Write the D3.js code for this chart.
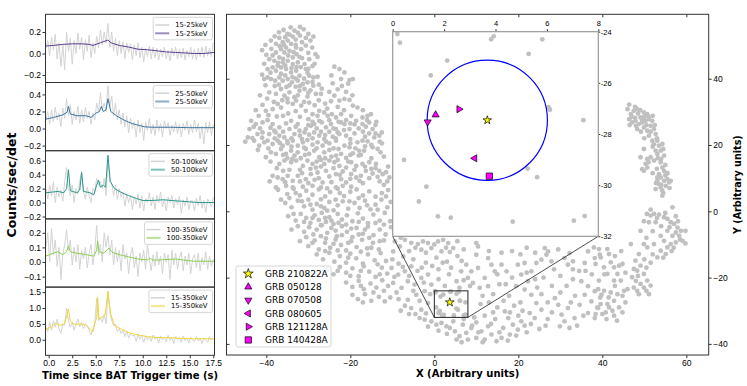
<!DOCTYPE html>
<html lang="en">
<head>
<meta charset="UTF-8" />
<title>GRB 210822A</title>
<style>
  body { margin: 0; background: #fff; }
  svg { font-family: "DejaVu Sans", sans-serif; }
</style>
</head>
<body>
<svg id="chart" width="747" height="386"></svg>
<script src="https://cdn.jsdelivr.net/npm/d3@7"></script>
<script>
// ---- light curves ----
const bands = ["15-25keV", "25-50keV", "50-100keV", "100-350keV", "15-350keV"];
const binStart = -0.3, binWidth = 0.2;
const rate15_25 = [0.05,0.12,-0.02,0.15,0.03,0.18,-0.05,0.1,-0.12,0.08,-0.15,0.2,0.02,0.14,-0.1,0.12,0.0,0.19,0.04,0.15,-0.06,0.13,0.02,0.17,-0.04,0.1,0.0,0.16,0.05,0.22,0.08,0.2,0.1,0.28,0.06,0.2,0.02,0.14,-0.02,0.12,0.0,0.11,-0.05,0.1,0.01,0.09,-0.06,0.08,-0.02,0.1,-0.04,0.06,-0.08,0.05,-0.03,0.07,-0.05,0.06,-0.04,0.05,-0.06,0.04,-0.03,0.06,-0.05,0.03,-0.07,0.05,-0.02,0.06,-0.05,0.04,-0.04,0.05,-0.06,0.03,-0.03,0.06,-0.05,0.04,-0.06,0.05,-0.03,0.06,-0.04,0.07,-0.02,0.05,-0.03,0.1];
const rate25_50 = [0.1,0.2,0.05,0.22,0.08,0.25,0.1,0.18,0.02,0.24,0.12,0.35,0.15,0.28,0.05,0.2,0.1,0.26,0.06,0.22,0.08,0.25,0.12,0.2,0.05,0.18,0.1,0.3,0.2,0.42,0.22,0.3,0.2,0.5,0.25,0.38,0.15,0.3,0.1,0.22,0.05,0.18,0.02,0.15,-0.05,0.12,0.0,0.08,-0.1,0.1,-0.05,0.06,-0.14,0.08,-0.02,0.12,-0.06,0.05,-0.08,0.1,-0.03,0.06,-0.1,0.09,0.0,0.07,-0.08,0.04,-0.04,0.08,-0.06,0.05,-0.1,0.06,-0.02,0.09,-0.07,0.05,-0.05,0.1,-0.04,0.06,-0.12,0.03,-0.18,0.07,-0.05,0.08,-0.08,0.05];
const rate50_100 = [0.2,0.05,0.25,0.1,0.3,0.0,0.22,0.08,0.18,0.02,0.3,0.5,0.2,0.1,0.25,0.0,0.2,0.12,0.3,0.45,0.15,0.05,0.22,0.1,0.0,0.2,0.15,0.35,0.25,0.3,0.2,0.35,0.1,0.6,0.3,0.28,0.1,0.25,0.05,0.2,0.08,0.15,-0.05,0.12,0.0,0.1,-0.1,0.08,-0.02,0.12,-0.08,0.1,-0.12,0.06,0.0,0.14,-0.05,0.08,-0.1,0.1,0.0,0.15,-0.06,0.05,-0.12,0.08,0.0,0.1,-0.08,0.06,-0.03,0.09,-0.15,0.04,-0.05,0.08,-0.1,0.03,0.02,-0.12,0.06,-0.04,0.1,-0.08,0.03,-0.14,0.05,0.0,-0.06,0.08];
const rate100_350 = [0.1,0.2,0.0,0.23,0.05,0.15,-0.03,0.1,-0.12,0.05,0.12,0.22,0.08,0.15,-0.02,0.1,0.0,0.12,-0.05,0.08,0.02,0.1,-0.04,0.06,0.12,-0.02,0.08,0.25,0.05,0.12,0.0,0.2,0.1,0.18,0.05,0.15,-0.02,0.1,0.0,0.08,-0.06,0.12,0.02,0.06,-0.08,0.05,0.1,-0.04,0.04,-0.1,0.06,0.0,0.08,-0.05,0.12,0.02,-0.06,0.05,-0.03,0.07,-0.02,0.04,-0.08,0.06,0.0,0.05,-0.12,0.08,-0.02,0.06,-0.05,0.03,0.07,-0.06,0.04,-0.02,0.06,-0.08,0.02,0.05,-0.04,0.06,-0.06,0.03,-0.02,0.07,-0.05,0.04,-0.03,0.02];
const rate15_350 = [0.4,0.25,0.55,0.3,0.6,0.4,0.65,0.35,0.2,0.5,0.45,1.0,0.6,0.4,0.55,0.3,0.5,0.65,0.4,0.55,0.35,0.5,0.45,0.3,0.15,0.35,0.5,1.3,0.6,0.7,0.55,0.8,0.5,1.5,0.9,0.6,0.45,0.5,0.25,0.35,0.2,0.3,0.1,0.28,0.05,0.2,0.12,0.15,-0.05,0.18,0.02,0.15,-0.08,0.12,0.0,0.1,-0.05,0.15,0.02,0.08,-0.1,0.12,0.0,0.05,-0.06,0.14,-0.02,0.08,-0.12,0.1,0.0,0.06,-0.08,0.12,-0.03,0.05,-0.1,0.08,0.0,-0.06,0.1,-0.04,0.06,-0.12,0.05,0.0,-0.08,0.1,-0.02,0.04];

// smoothed curves, [time, rate]
const smooth15_25 = [[-0.3,0.07],[0.5,0.075],[1.5,0.085],[2.5,0.09],[3.5,0.09],[4.3,0.085],[4.7,0.075],[5.5,0.1],[6.3,0.125],[6.6,0.1],[7.5,0.075],[8.5,0.06],[9.5,0.04],[10.5,0.035],[11.5,0.025],[12.5,0.015],[13.5,0.01],[14.5,0.005],[15.5,0.0],[16.5,0.0],[17.6,0.01]];
const smooth25_50 = [[-0.3,0.11],[0.5,0.13],[1.5,0.16],[1.95,0.19],[2.1,0.26],[2.3,0.17],[3,0.15],[4,0.15],[4.5,0.13],[5.0,0.18],[5.4,0.2],[5.6,0.26],[5.8,0.2],[6.1,0.22],[6.3,0.35],[6.6,0.2],[7.2,0.15],[8,0.1],[8.8,0.06],[9.5,0.04],[10.2,0.02],[11,0.015],[13,0.015],[15,0.01],[17.6,0.01]];
const smooth50_100 = [[-0.3,0.14],[1.0,0.16],[1.6,0.14],[1.9,0.2],[2.1,0.47],[2.3,0.17],[3.0,0.14],[3.3,0.18],[3.5,0.43],[3.7,0.16],[4.4,0.14],[4.8,0.11],[5.1,0.25],[5.3,0.32],[5.5,0.22],[5.8,0.25],[6.05,0.22],[6.3,0.68],[6.55,0.3],[7.0,0.2],[7.8,0.14],[8.5,0.1],[9.3,0.06],[10.0,0.03],[11,0.03],[12.2,0.04],[13,0.03],[14,0.02],[15,0.01],[16,0.0],[17.6,0.0]];
const smooth100_350 = [[-0.3,0.04],[0.5,0.06],[1.0,0.07],[1.5,0.05],[1.9,0.07],[2.1,0.11],[2.3,0.07],[3.0,0.06],[4.0,0.05],[4.8,0.04],[5.1,0.08],[5.2,0.145],[5.35,0.07],[5.8,0.06],[6.2,0.08],[6.4,0.095],[6.8,0.065],[7.5,0.05],[8.5,0.035],[9.5,0.02],[10.5,0.015],[10.8,0.025],[11.1,0.012],[12,0.015],[13.5,0.02],[14.5,0.012],[15.5,0.005],[17.6,0.005]];
const smooth15_350 = [[-0.3,0.33],[0.3,0.4],[0.7,0.52],[1.2,0.46],[1.6,0.48],[1.9,0.7],[2.1,0.97],[2.3,0.58],[2.8,0.48],[3.5,0.5],[4.0,0.45],[4.5,0.3],[4.7,0.25],[4.9,0.5],[5.1,0.7],[5.2,1.35],[5.35,0.65],[5.7,0.72],[6.0,0.78],[6.3,1.53],[6.6,0.8],[7.0,0.45],[7.8,0.32],[8.6,0.22],[9.5,0.15],[10.5,0.1],[11.5,0.07],[13,0.06],[14.5,0.04],[15.5,0.03],[17.6,0.03]];

const rates = [rate15_25, rate25_50, rate50_100, rate100_350, rate15_350];
const smooths = [smooth15_25, smooth25_50, smooth50_100, smooth100_350, smooth15_350];
const bandColors = ["#5a3f8c", "#3d76a0", "#26998c", "#8ccf4e", "#f1d535"];
const yDomains = [[-0.27, 0.365], [-0.26, 0.54], [-0.234, 0.743], [-0.172, 0.295], [-0.49, 1.66]];
const yTickVals = [[-0.2, 0, 0.2], [-0.2, 0, 0.2, 0.4], [-0.2, 0, 0.2, 0.4, 0.6], [-0.1, 0, 0.1, 0.2], [0, 0.5, 1, 1.5]];
const timeTicks = [0, 2.5, 5, 7.5, 10, 12.5, 15, 17.5];

// ---- t-SNE map points [x, y] ----
const cloudNW = [[-35.9,54.7],[-33.3,54.5],[-31.1,54.9],[-32.5,53.9],[-34.5,53.3],[-36.9,52.3],[-35.5,52.5],[-33.7,52.7],[-32.0,53.0],[-30.6,52.3],[-28.8,52.7],[-38.9,51.5],[-40.2,50.2],[-41.0,48.6],[-37.7,50.5],[-36.1,51.0],[-34.9,51.5],[-34.1,50.5],[-35.3,49.4],[-36.5,48.9],[-35.7,47.9],[-34.5,48.4],[-32.9,49.4],[-31.7,48.9],[-30.6,50.0],[-29.1,49.4],[-28.3,47.4],[-27.8,46.6],[-32.8,47.4],[-32.1,46.6],[-33.7,46.4],[-37.7,47.9],[-39.3,45.9],[-38.1,45.4],[-36.9,46.4],[-36.1,44.9],[-34.9,45.4],[-33.7,44.4],[-32.5,44.9],[-30.9,44.4],[-29.8,45.9],[-37.3,43.9],[-38.5,43.4],[-39.7,42.9],[-37.7,42.4],[-36.5,43.4],[-35.3,42.9],[-34.1,41.9],[-32.9,42.4],[-32.1,40.9],[-30.6,42.9],[-29.8,40.9],[-28.8,40.4],[-27.8,40.6],[-41.0,41.2],[-40.5,39.9],[-39.7,40.4],[-38.9,39.9],[-37.9,39.4],[-36.9,40.4],[-36.1,39.4],[-34.9,39.9],[-33.9,38.9],[-32.5,39.4],[-31.3,38.4],[-30.2,38.9],[-28.8,37.9],[-23.8,43.6],[-22.6,42.9],[-21.4,41.9],[-24.2,38.6],[-22.2,39.9],[-20.2,39.6],[-19.4,39.9],[-39.3,35.9],[-37.7,35.4],[-36.5,36.9],[-35.7,34.9],[-34.5,35.9],[-33.3,34.4],[-32.1,36.4],[-30.9,36.9],[-30.2,34.6],[-28.2,35.4],[-27.0,35.4],[-23.8,34.9],[-24.6,33.2],[-22.6,33.4],[-21.4,33.9],[-20.2,33.6],[-19.4,31.9],[-18.3,31.3],[-40.9,32.1],[-40.1,30.3],[-38.5,30.8],[-37.3,32.4],[-36.5,31.3],[-34.9,32.9],[-33.7,32.4],[-32.9,33.4],[-31.7,31.9],[-30.6,30.3],[-29.0,29.3],[-27.4,30.3],[-26.2,29.8],[-25.4,28.8],[-24.4,29.3],[-23.4,28.3],[-22.2,29.3],[-21.0,27.5],[-19.8,28.8],[-18.6,27.3],[-17.1,28.3],[-15.9,28.8],[-15.1,29.3],[-17.1,26.3],[-16.3,25.5],[-14.7,24.8],[-15.5,26.8],[-43.6,27.3],[-42.5,26.3],[-40.9,26.8],[-39.7,27.5],[-38.5,26.3],[-36.9,25.3],[-35.3,26.5],[-34.1,27.3],[-32.5,26.3],[-30.6,24.8],[-29.4,25.8],[-28.6,26.3],[-27.4,27.3],[-25.8,25.3],[-24.6,26.3],[-23.4,24.8],[-22.2,26.8],[-21.4,26.3],[-20.2,24.8],[-44.4,22.3],[-43.3,22.1],[-42.1,23.3],[-40.9,23.8],[-39.3,23.3],[-38.1,24.3],[-36.9,22.8],[-35.7,22.3],[-34.5,24.8],[-33.3,23.3],[-32.1,24.3],[-30.9,23.8],[-29.8,23.1],[-28.6,23.8],[-27.4,22.8],[-26.2,21.8],[-24.2,22.5],[-22.6,23.3],[-21.0,22.8],[-42.9,21.3],[-41.7,19.8],[-40.5,20.8],[-39.7,21.3],[-38.5,20.3],[-37.3,21.3],[-36.1,19.8],[-34.9,20.5],[-33.7,21.3],[-32.5,19.8],[-31.3,20.8],[-30.2,21.5],[-29.0,20.1],[-27.8,20.8],[-26.6,19.8],[-25.0,20.5],[-23.4,21.3],[-21.4,19.8],[-20.2,19.3],[-18.3,20.8],[-17.1,21.3],[-15.9,21.1],[-14.3,22.3],[-13.1,22.8],[-40.1,16.3],[-38.9,17.8],[-37.7,17.3],[-36.5,18.8],[-35.3,17.3],[-34.1,18.3],[-33.3,16.8],[-32.5,17.8],[-30.6,18.8],[-29.8,17.3],[-28.6,18.3],[-27.4,16.3],[-26.2,17.8],[-25.0,18.5],[-23.4,16.8],[-22.2,17.3],[-21.0,16.1],[-19.4,17.5],[-17.9,18.3],[-16.7,18.3],[-14.7,19.3],[-13.5,18.8],[-36.9,14.3],[-35.7,15.3],[-34.1,14.8],[-32.9,15.3],[-31.3,13.7],[-30.2,15.3],[-29.0,14.3],[-28.2,13.2],[-26.2,14.3],[-25.0,15.3],[-23.8,14.8],[-22.6,13.7],[-21.0,13.2],[-19.8,14.8],[-18.6,13.7],[-17.1,14.3],[-15.5,14.8],[-13.9,14.3],[-13.1,12.2],[-38.5,10.7],[-37.3,10.2],[-36.1,9.7],[-34.9,10.7],[-33.7,9.2],[-32.5,10.7],[-30.6,9.7],[-29.4,11.2],[-27.8,11.7],[-26.6,8.7],[-25.8,12.2],[-23.4,11.2],[-22.2,9.7],[-21.0,8.7],[-19.8,11.2],[-18.6,10.2],[-17.5,10.7],[-16.3,12.2],[-14.7,11.4],[-13.5,10.4],[-12.3,11.2],[-10.7,10.2],[-37.7,7.2],[-35.3,7.7],[-33.7,7.2],[-31.3,7.4],[-29.0,7.7],[-27.0,7.2],[-23.4,7.2],[-21.8,7.7],[-19.8,7.4],
  [-35.0,53.5],[-33.0,51.8],[-31.5,51.0],[-35.8,50.2],[-33.5,48.0],[-30.0,47.8],[-38.8,49.0],[-36.0,46.0],[-34.0,43.2],[-31.8,43.5],[-29.0,43.8],[-35.5,41.0],[-33.0,40.0],[-30.2,41.8],[-40.5,44.5],[-38.0,37.8],[-35.2,37.5],[-33.0,37.6],[-29.5,36.5],[-27.5,38.2],[-39.8,34.0],[-36.2,33.5],[-31.0,33.0],[-28.5,32.0],[-26.0,32.5],[-23.0,36.8],[-21.0,36.0],[-19.5,35.0],[-41.8,28.8],[-37.5,28.6],[-34.8,29.5],[-32.0,28.5],[-30.0,27.8],[-27.8,28.8],[-26.8,26.8],[-19.0,26.2],[-13.8,27.0],[-44.0,24.8],[-41.5,25.0],[-37.8,23.8],[-34.0,22.0],[-31.5,21.8],[-28.0,25.0],[-25.0,24.0],[-23.0,23.8],[-19.0,23.5],[-17.0,24.0],[-15.5,23.5],[-12.5,20.5],[-16.5,19.6],[-24.0,19.0],[-35.0,16.0],[-31.8,16.0],[-27.0,15.5],[-24.5,16.5],[-20.5,15.0],[-18.0,16.8],[-12.0,16.5],[-11.0,13.5],[-15.0,12.8],[-25.0,10.5],[-32.0,12.5],[-36.0,12.2],[-28.5,9.5],[-17.0,8.5],[-12.0,8.0],
  [-37.0,54.0],[-34.2,55.5],[-32.0,55.6],[-30.0,53.5],[-29.5,51.5],[-38.0,52.8],[-36.8,49.8],[-33.0,50.2],[-31.5,46.2],[-34.8,47.0],[-38.5,47.0],[-40.0,47.2],[-37.2,44.8],[-35.5,44.0],[-32.8,43.5],[-30.0,43.0],[-28.5,44.5],[-39.0,41.8],[-36.5,41.5],[-33.8,40.5],[-31.0,40.0],[-29.0,39.0],[-40.2,38.0],[-37.0,38.2],[-34.5,38.0],[-32.0,37.8],[-30.0,35.8],[-26.8,37.0],[-25.0,36.0],[-22.0,37.8],[-20.5,38.5],[-24.5,41.0],[-41.5,35.0],[-38.2,33.0],[-35.0,34.0],[-32.5,35.0],[-29.8,32.8],[-27.5,33.5],[-25.5,31.0],[-23.0,31.5],[-21.5,30.5],[-17.0,30.5],[-42.5,30.5],[-39.5,29.0],[-36.0,28.8],[-33.0,30.2],[-29.0,27.0],[-25.0,27.5],[-22.8,27.0],[-20.0,26.5],[-16.0,27.5],[-14.0,26.0],[-43.0,25.5],[-39.0,25.2],[-36.0,24.0],[-33.0,25.5],[-30.0,26.0],[-27.0,24.0],[-24.0,25.0],[-21.5,24.5],[-18.0,25.0],[-14.0,23.5],[-45.0,21.0],[-41.0,22.2],[-38.0,22.0],[-35.0,21.2],[-32.0,22.8],[-29.0,22.0],[-26.0,23.0],[-23.5,22.0],[-20.0,21.8],[-16.5,22.5],[-12.5,23.8],[-42.0,18.5],[-39.5,19.0],[-36.8,20.6],[-34.0,19.5],[-31.0,19.2],[-28.0,19.0],[-25.8,21.0],[-22.8,18.8],[-20.0,20.5],[-18.8,19.0],[-15.0,20.0],[-13.0,21.0],[-39.0,15.0],[-36.0,17.0],[-33.8,15.8],[-30.8,17.0],[-28.0,15.0],[-26.0,16.0],[-23.0,15.5],[-20.0,17.0],[-17.5,17.0],[-15.0,16.0],[-12.8,17.8],[-37.5,13.0],[-34.5,12.5],[-31.5,11.5],[-29.5,12.8],[-27.0,13.5],[-24.0,13.0],[-21.8,12.0],[-19.0,12.5],[-16.5,13.5],[-14.0,13.0],[-11.5,11.8],[-39.2,9.0],[-35.5,8.8],[-32.0,9.0],[-30.0,8.5],[-27.5,10.0],[-24.5,8.8],[-22.5,11.0],[-20.0,9.8],[-17.8,9.2],[-15.5,10.0],[-13.0,9.0],[-11.2,9.0]];
const cloudSW = [[-37.2,6.5],[-35.0,5.2],[-33.5,6.8],[-32.0,4.8],[-30.5,6.2],[-29.0,5.0],[-27.5,6.6],[-26.0,4.5],[-24.8,5.8],[-23.0,6.8],[-21.5,4.6],[-20.0,5.9],[-18.5,6.6],[-17.0,4.8],[-15.5,6.0],[-14.0,4.4],[-12.5,5.5],[-11.0,6.4],[-34.5,4.0],[-25.5,6.9],[-35.5,2.5],[-34.0,1.2],[-32.5,3.2],[-31.0,1.5],[-30.0,3.5],[-29.0,0.5],[-28.0,2.2],[-27.0,3.6],[-26.2,1.0],[-25.0,2.8],[-24.0,0.3],[-23.0,1.8],[-21.8,3.0],[-20.5,0.8],[-19.0,2.5],[-17.8,1.0],[-16.5,3.2],[-15.2,0.6],[-14.0,2.0],[-12.6,3.5],[-11.2,1.2],[-10.4,2.8],[-34.8,-1.5],[-33.0,-2.8],[-31.8,-0.8],[-30.5,-2.0],[-29.5,-3.5],[-28.5,-1.2],[-27.5,-2.6],[-26.8,-0.5],[-25.8,-3.2],[-25.0,-1.8],[-24.0,-3.8],[-23.0,-0.8],[-22.0,-2.5],[-20.8,-1.2],[-19.5,-3.0],[-18.2,-0.6],[-17.0,-2.2],[-15.8,-3.6],[-14.5,-1.0],[-13.0,-2.8],[-11.8,-0.5],[-10.5,-3.0],[-34.0,-5.5],[-32.5,-4.5],[-31.0,-6.2],[-29.8,-4.8],[-28.8,-7.0],[-28.0,-5.5],[-26.8,-4.2],[-25.5,-6.5],[-24.5,-5.0],[-23.2,-7.5],[-22.0,-4.5],[-20.8,-6.2],[-19.5,-7.8],[-18.5,-5.0],[-17.0,-6.8],[-15.8,-4.6],[-14.5,-7.2],[-13.0,-5.5],[-11.6,-7.0],[-10.3,-4.8],[-32.0,-9.0],[-30.0,-10.5],[-28.5,-8.8],[-27.5,-11.5],[-26.0,-9.5],[-24.8,-11.0],[-23.5,-8.5],[-22.2,-10.2],[-21.0,-11.8],[-19.8,-9.0],[-18.5,-10.8],[-17.2,-8.6],[-16.0,-11.2],[-14.6,-9.5],[-13.2,-11.5],[-12.0,-8.8],[-28.0,-13.0],[-26.5,-14.5],[-25.0,-12.5],[-23.8,-15.2],[-22.5,-13.5],[-21.0,-15.5],[-20.0,-12.8],[-18.6,-14.2],[-17.0,-15.8],[-15.8,-13.0],[-14.2,-14.8],[-12.8,-12.6],[-11.5,-15.0],[-25.5,-17.5],[-24.0,-19.0],[-22.5,-16.8],[-21.0,-18.5],[-19.5,-17.2],[-18.0,-19.6],[-16.8,-16.6],[-15.5,-18.2],[-14.0,-19.8],[-12.5,-17.0],[-11.2,-18.8],[-21.0,-21.5],[-19.5,-22.8],[-18.0,-21.0],[-16.8,-23.5],[-15.2,-21.8],[-13.8,-23.0],[-12.4,-20.8],[-11.0,-22.5],[-19.5,-25.2],[-18.2,-26.5],[-16.5,-25.0],[-15.0,-27.0],[-13.2,-25.8],[-11.8,-27.2],
  [-36.5,3.5],[-33.0,5.5],[-31.5,3.0],[-29.5,2.0],[-27.0,1.5],[-25.5,0.2],[-23.5,3.5],[-22.5,5.5],[-20.2,3.0],[-18.0,4.0],[-16.0,1.8],[-13.5,0.5],[-11.5,4.5],[-33.5,-0.8],[-31.0,-3.2],[-29.0,-2.0],[-27.0,-4.2],[-26.0,-2.0],[-24.5,-2.8],[-23.5,-5.8],[-22.8,-3.5],[-21.0,-4.0],[-19.8,-5.2],[-18.0,-3.2],[-16.5,-5.5],[-14.0,-3.5],[-12.0,-4.0],[-30.5,-7.8],[-29.0,-9.5],[-27.0,-7.5],[-25.8,-8.2],[-24.0,-9.8],[-22.0,-7.2],[-20.5,-9.5],[-18.0,-7.0],[-15.5,-8.0],[-13.0,-9.0],[-26.0,-12.0],[-23.0,-11.8],[-20.5,-14.0],[-17.5,-12.2],[-15.0,-11.0],[-13.5,-16.0],[-23.0,-18.0],[-20.0,-19.5],[-17.5,-18.0],[-13.0,-19.0],[-17.5,-22.5],[-14.5,-24.5],[-12.0,-24.0],[-17.0,-27.5],[-10.5,-26.0]];
const cloudS = [[-9.4,-9.1],[-8.2,-10.6],[-9.8,-12.1],[-7.0,-8.6],[-7.4,-13.6],[-3.9,-9.9],[-2.7,-9.1],[-1.5,-9.6],[-0.7,-11.1],[-3.1,-11.6],[0.9,-9.1],[2.1,-8.6],[3.3,-9.6],[4.5,-11.1],[1.7,-12.1],[3.7,-12.3],[10.0,-9.6],[10.0,-13.1],[10.4,-10.6],[12.8,-14.1],[13.6,-16.1],[14.4,-18.1],[7.6,-16.1],[8.8,-18.1],[10.4,-17.1],[12.0,-20.1],[9.2,-21.6],[10.8,-23.1],[12.8,-22.6],[8.0,-20.1],[6.4,-18.1],[5.3,-21.1],[6.0,-23.1],[-10.2,-17.1],[-8.6,-19.1],[-7.0,-18.1],[-5.5,-16.6],[-9.8,-21.6],[-7.8,-23.1],[-6.3,-21.1],[-4.7,-22.1],[-3.1,-20.1],[-1.5,-19.1],[-0.7,-22.1],[-4.3,-25.2],[-6.3,-26.7],[-2.3,-24.1],[-3.1,-29.7],[-1.5,-27.7],[-5.5,-29.2],[16.0,-16.1],[17.2,-18.1],[19.9,-16.1],[21.5,-15.6],[20.7,-19.1],[22.3,-21.1],[19.5,-22.6],[21.5,-23.6],[23.1,-18.1],[26.3,-11.1],[27.1,-12.1],[26.7,-13.1],[27.9,-15.1],[24.3,-15.6],[25.5,-14.6],[31.0,-14.1],[32.2,-12.6],[31.8,-16.1],[33.0,-15.1],[36.6,-12.1],[38.2,-14.1],[35.8,-15.6],[39.4,-13.1],[16.8,-30.2],[17.6,-32.2],[18.7,-34.2],[16.4,-35.2],[19.9,-35.7],[20.7,-33.2],[18.0,-37.2],[16.0,-38.2],[23.1,-25.2],[24.3,-27.7],[25.5,-29.7],[22.7,-30.7],[23.9,-32.2],[28.7,-26.2],[29.5,-28.2],[30.3,-31.2],[31.0,-33.2],[32.2,-35.2],[33.4,-32.2],[29.9,-34.7],[31.8,-29.2],[35.0,-21.1],[36.6,-22.6],[38.2,-24.1],[35.8,-25.2],[37.4,-27.2],[39.0,-29.2],[34.6,-28.2],[36.6,-30.7],[38.2,-32.2],[39.8,-25.2],[-3.5,-32.2],[-2.3,-32.7],[-0.7,-33.2],[0.5,-34.2],[3.7,-35.2],[4.9,-36.2],[6.0,-37.7],[7.6,-36.7],[8.8,-35.2],[10.0,-38.2],[11.2,-36.2],[12.8,-34.7],[13.6,-37.2],[14.8,-39.2],[12.0,-38.7],[5.3,-38.7],[8.0,-38.7],[1.7,-33.7],[2.9,-34.7],[4.5,-33.2],[6.8,-34.2],
  [-5.0,-14.5],[-2.0,-15.5],[0.5,-14.0],[3.0,-15.2],[5.5,-13.5],[7.0,-11.5],[-8.5,-15.8],[-4.0,-18.0],[1.0,-17.5],[3.5,-19.0],[-9.0,-24.5],[-1.0,-25.0],[-7.0,-28.5],[14.0,-25.0],[15.5,-22.0],[17.8,-25.5],[19.0,-28.5],[16.5,-27.0],[20.5,-27.5],[26.0,-20.0],[28.0,-22.5],[30.0,-19.5],[33.0,-20.5],[34.5,-18.0],[24.5,-23.0],[27.0,-32.5],[25.0,-35.5],[22.0,-36.5],[21.0,-30.0],[14.0,-30.5],[12.0,-31.5],[9.5,-32.0],[11.0,-28.0],[13.5,-34.0],[7.0,-32.5],[34.0,-34.5],[37.5,-19.0],[18.5,-12.0],[22.0,-11.0],[29.5,-11.5],[-6.0,-31.0],[-2.0,-30.8],
  [-8.0,-8.0],[-5.5,-9.5],[-6.0,-12.0],[-4.5,-11.0],[-2.0,-12.5],[0.0,-10.0],[2.8,-11.0],[5.5,-9.0],[-10.0,-14.5],[-7.5,-16.8],[-3.0,-17.0],[-0.5,-16.5],[2.0,-15.5],[4.0,-17.0],[6.5,-15.0],[-9.5,-19.8],[-6.0,-19.5],[-2.5,-21.5],[1.0,-20.5],[2.5,-22.5],[-8.5,-26.5],[-5.0,-24.0],[-3.5,-27.0],[-8.0,-30.0],[-4.5,-31.0],[8.5,-22.5],[7.0,-20.8],[11.5,-25.5],[13.0,-27.5],[15.0,-29.0],[18.0,-30.5],[20.0,-31.5],[21.5,-34.5],[23.0,-34.0],[26.5,-34.5],[28.0,-30.5],[27.0,-27.5],[25.5,-25.0],[24.0,-20.5],[22.0,-18.5],[18.5,-20.0],[17.0,-22.0],[15.0,-19.0],[13.0,-12.0],[16.0,-12.5],[20.5,-13.0],[24.0,-12.5],[28.5,-17.5],[31.5,-22.5],[33.5,-25.5],[32.5,-27.5],[35.5,-31.5],[36.0,-18.0],[33.0,-17.5],[30.0,-24.5],[9.0,-34.5],[10.5,-36.5],[3.0,-37.0],[1.0,-36.0],[-1.5,-34.8],[6.5,-39.5],[11.5,-39.5],[15.5,-36.5],[17.5,-39.0],[19.5,-37.5],[14.5,-32.5],[10.0,-33.5],
  [0.18,-24.09],[0.28,-24.43],[3.83,-24.3],[3.93,-24.18],[5.82,-24.3],[5.29,-24.87],[2.12,-25.13],[1.48,-25.71],[6.06,-26.95],[6.12,-27.05],[7.42,-27.46],[0.44,-29.01],[5.25,-29.35],[5.62,-29.69],[1.31,-30.06],[1.02,-30.64],[1.76,-31.22],[2.26,-31.27],[4.67,-31.43],[7.05,-31.39],[7.47,-31.21]];
const cloudE = [[46.4,32.2],[47.5,30.3],[46.8,29.3],[48.2,30.9],[49.1,28.3],[49.9,29.8],[50.7,29.3],[46.4,27.8],[47.1,26.8],[47.9,27.3],[48.7,26.3],[49.5,26.8],[50.3,27.3],[51.1,27.8],[51.9,27.3],[51.5,25.8],[49.9,25.3],[48.3,24.8],[50.7,24.3],[52.3,24.8],[52.7,23.3],[51.1,22.8],[51.9,21.3],[53.1,21.3],[53.5,19.8],[54.3,20.3],[53.9,18.3],[52.7,18.3],[53.1,17.3],[54.7,16.8],[49.9,18.8],[49.1,16.3],[50.7,15.8],[51.5,16.3],[52.3,15.3],[50.3,14.3],[49.5,12.7],[49.9,12.2],[50.7,13.2],[53.9,14.8],[54.3,13.2],[54.7,12.2],[53.5,11.2],[53.9,10.2],[53.1,9.2],[54.7,9.2],[55.5,9.7],[56.3,9.2],[53.5,8.2],[53.9,7.2],[54.3,6.2],[55.1,7.7],[53.1,10.2],[54.3,4.7],[52.7,6.7],[55.9,8.7],
  [47.0,28.5],[48.5,29.5],[49.5,27.5],[50.5,26.0],[48.0,25.8],[52.5,26.0],[51.0,28.5],[53.0,22.0],[52.0,19.5],[54.0,15.8],[53.0,12.8],[52.8,8.5],[54.5,5.5],[55.0,10.8],
  [56.7,1.2],[50.6,-0.8],[51.5,-1.3],[52.3,-0.8],[52.7,-3.3],[51.1,-3.3],[49.9,-3.0],[49.1,-5.9],[54.7,-1.8],[55.5,-2.3],[56.3,-3.3],[57.1,-3.8],[57.9,-4.9],[57.5,-6.4],[58.7,-5.9],[59.8,-5.9],[58.3,-7.4],[56.7,-7.4],[55.5,-5.9],[53.9,-7.4],[54.7,-8.9],[56.3,-9.9],[57.5,-9.4],[59.1,-8.9],[59.8,-9.7],[55.5,-10.9],[53.9,-11.9],[55.1,-12.9],[53.1,-13.9],[52.3,-9.9],[50.7,-10.9],[49.9,-9.9],[48.7,-12.9],[47.9,-14.9],[49.1,-16.4],[48.3,-17.9],[47.5,-17.4],[49.9,-18.9],[50.7,-20.9],[49.1,-21.9],[49.9,-23.0],[51.5,-22.4],[48.3,-24.0],[48.7,-25.0],[47.1,-19.9],[51.1,-25.0],[46.8,-9.9],
  [53.0,-2.0],[54.0,-4.5],[56.0,-4.8],[58.0,-3.0],[52.0,-6.0],[50.5,-8.0],[57.0,-11.0],[52.0,-13.0],[50.0,-14.5],[48.0,-21.0],[50.5,-17.0],[55.0,-0.5],
  [38.0,-10.9],[39.2,-11.4],[41.2,-11.4],[41.6,-12.9],[39.6,-13.9],[38.4,-15.9],[40.4,-16.9],[42.0,-15.4],[42.8,-16.9],[44.0,-16.4],[44.8,-15.9],[43.6,-18.9],[41.2,-18.9],[42.8,-20.9],[44.4,-20.9],[39.2,-20.9],[40.4,-24.0],[42.0,-24.5],[43.6,-25.0],[45.2,-24.0],[46.0,-23.5],[44.8,-25.5],[42.8,-27.0],[41.2,-28.0],[39.6,-28.0],[44.0,-29.0],[42.4,-30.0],[40.8,-30.5],[42.8,-31.5],[44.8,-30.5],[38.8,-29.0],[41.6,-29.0],[38.4,-31.0],[40.0,-31.0],
  [46.0,30.8],[47.8,31.5],[49.0,30.5],[46.5,26.0],[47.8,28.2],[50.0,28.5],[52.0,28.8],[49.2,24.0],[51.5,24.0],[50.0,22.0],[52.3,20.2],[54.5,18.8],[53.2,16.0],[51.0,14.8],[55.0,14.0],[52.0,11.5],[55.5,11.5],[54.0,8.0],[56.0,7.0],[51.5,0.5],[53.5,-1.0],[57.5,-1.5],[58.5,-8.5],[56.5,-12.0],[54.5,-14.0],[51.5,-15.5],[48.5,-19.5],[50.5,-24.0],[47.5,-23.0],[43.0,-13.5],[45.5,-18.5],[40.5,-19.0],[39.0,-23.5],[41.5,-26.0],[43.0,-22.5],[45.5,-27.5],[39.5,-26.0],[43.5,-33.0],[41.0,-32.5],[44.5,-12.0]];

// GRBs highlighted in the zoom
const grbNames = ["GRB 210822A", "GRB 050128", "GRB 070508", "GRB 080605", "GRB 121128A", "GRB 140428A"];
const grbX = [3.68, 1.67, 1.36, 3.19, 2.58, 3.76];
const grbY = [-27.46, -27.25, -27.53, -28.95, -27.03, -29.65];
const circleRadius = 2.34;

const xMainTicks = [-40, -20, 0, 20, 40, 60];
const yMainTicks = [-40, -20, 0, 20, 40];
const xZoomTicks = [0, 2, 4, 6, 8];
const yZoomTicks = [-32, -30, -28, -26, -24];

// ------------------------------------------------------------
const svg = d3.select("#chart");
const axisCol = "#333";

// light-curve panels
const lcLeft = 45.5, lcRight = 214.5, lcTop = 14.3, lcH = 68.2;
const xT = d3.scaleLinear().domain([-0.34, 17.63]).range([lcLeft, lcRight]);
const fmt1 = d3.format(".1f");

bands.forEach((band, i) => {
  const top = lcTop + i * lcH;
  const y = d3.scaleLinear().domain(yDomains[i]).range([top + lcH, top]);
  const g = svg.append("g");

  g.append("clipPath").attr("id", "lc" + i)
    .append("rect").attr("x", lcLeft).attr("y", top).attr("width", lcRight - lcLeft).attr("height", lcH);

  const plot = g.append("g").attr("clip-path", `url(#lc${i})`);
  plot.append("path")
    .datum(rates[i])
    .attr("d", d3.line().x((d, j) => xT(binStart + j * binWidth)).y(d => y(d)))
    .attr("fill", "none").attr("stroke", "#d3d3d3").attr("stroke-width", 1);
  plot.append("path")
    .datum(smooths[i])
    .attr("d", d3.line().x(d => xT(d[0])).y(d => y(d[1])))
    .attr("fill", "none").attr("stroke", bandColors[i]).attr("stroke-width", 1);

  const ax = g.append("g").attr("transform", `translate(${lcLeft},0)`)
    .call(d3.axisLeft(y).tickValues(yTickVals[i]).tickFormat(fmt1).tickSize(3).tickPadding(1.5));
  ax.select(".domain").remove();
  ax.selectAll("text").attr("font-size", 8.5).attr("fill", "#000").attr("font-family", null);
  ax.selectAll("line").attr("stroke", axisCol);

  if (i === bands.length - 1) {
    const bx = g.append("g").attr("transform", `translate(0,${top + lcH})`)
      .call(d3.axisBottom(xT).tickValues(timeTicks).tickFormat(fmt1).tickSize(3).tickPadding(1.5));
    bx.select(".domain").remove();
    bx.selectAll("text").attr("font-size", 8.5).attr("fill", "#000").attr("font-family", null);
    bx.selectAll("line").attr("stroke", axisCol);
  }

  g.append("rect").attr("x", lcLeft).attr("y", top).attr("width", lcRight - lcLeft).attr("height", lcH)
    .attr("fill", "none").attr("stroke", axisCol).attr("stroke-width", 1);

  // legend
  const lg = g.append("g");
  const box = lg.append("rect");
  const t1 = lg.append("text").text(band).attr("font-size", 6.8).attr("y", top + 10.7).attr("dy", "0.35em");
  const t2 = lg.append("text").text(band).attr("font-size", 6.8).attr("y", top + 19).attr("dy", "0.35em");
  const tw = t1.node().getComputedTextLength();
  const bw = tw + 27, bLeft = lcRight - 2 - bw;
  box.attr("x", bLeft).attr("y", top + 3).attr("width", bw).attr("height", 22.5).attr("rx", 2)
    .attr("fill", "#fff").attr("fill-opacity", 0.8).attr("stroke", "#ccc").attr("stroke-width", 0.8);
  t1.attr("x", bLeft + 22); t2.attr("x", bLeft + 22);
  lg.append("line").attr("x1", bLeft + 2).attr("x2", bLeft + 16).attr("y1", top + 10.7).attr("y2", top + 10.7)
    .attr("stroke", "#d3d3d3").attr("stroke-width", 1.5);
  lg.append("line").attr("x1", bLeft + 2).attr("x2", bLeft + 16).attr("y1", top + 19).attr("y2", top + 19)
    .attr("stroke", bandColors[i]).attr("stroke-width", 2).attr("stroke-opacity", 0.6);
});

svg.append("text").attr("transform", "translate(16,185) rotate(-90)")
  .attr("text-anchor", "middle").attr("font-weight", "bold").attr("font-size", 12.5)
  .text("Counts/sec/det");
svg.append("text").attr("x", (lcLeft + lcRight) / 2).attr("y", 379)
  .attr("text-anchor", "middle").attr("font-weight", "bold").attr("font-size", 10)
  .text("Time since BAT Trigger time (s)");

// main map
const mL = 226.5, mR = 708.7, mT = 14.3, mB = 355;
const x = d3.scaleLinear().domain([-49.48, 65.33]).range([mL, mR]);
const y = d3.scaleLinear().domain([-43.35, 59.43]).range([mB, mT]);
const allPts = cloudNW.concat(cloudSW, cloudS, cloudE);

svg.append("clipPath").attr("id", "mainClip")
  .append("rect").attr("x", mL).attr("y", mT).attr("width", mR - mL).attr("height", mB - mT);
const main = svg.append("g").attr("clip-path", "url(#mainClip)");
main.selectAll("circle").data(allPts).join("circle")
  .attr("cx", d => x(d[0])).attr("cy", d => y(d[1])).attr("r", 2.4).attr("fill", "#c0c0c0");

const star = d3.symbol().type(d3.symbolStar);
main.append("path").attr("d", star.size(24)())
  .attr("transform", `translate(${x(grbX[0])},${y(grbY[0])})`)
  .attr("fill", "#ffff00").attr("stroke", "#000").attr("stroke-width", 0.7);

// axes of the map
function styleAxis(sel) {
  sel.select(".domain").remove();
  sel.selectAll("text").attr("font-size", 8.5).attr("fill", "#000").attr("font-family", null);
  sel.selectAll("line").attr("stroke", axisCol);
}
const fmtInt = d3.format("d");
svg.append("g").attr("transform", `translate(0,${mB})`)
  .call(d3.axisBottom(x).tickValues(xMainTicks).tickFormat(fmtInt).tickSize(3).tickPadding(1.5)).call(styleAxis);
svg.append("g").attr("transform", `translate(${mR},0)`)
  .call(d3.axisRight(y).tickValues(yMainTicks).tickFormat(fmtInt).tickSize(3).tickPadding(1.5)).call(styleAxis);
svg.append("g").attr("transform", `translate(0,${mT})`)
  .call(d3.axisTop(x).tickValues(xMainTicks).tickFormat("").tickSize(-3)).call(styleAxis);
svg.append("g").attr("transform", `translate(${mL},0)`)
  .call(d3.axisLeft(y).tickValues(yMainTicks).tickFormat("").tickSize(-3)).call(styleAxis);
svg.append("rect").attr("x", mL).attr("y", mT).attr("width", mR - mL).attr("height", mB - mT)
  .attr("fill", "none").attr("stroke", axisCol).attr("stroke-width", 1);

svg.append("text").attr("x", (mL + mR) / 2).attr("y", 376.5)
  .attr("text-anchor", "middle").attr("font-weight", "bold").attr("font-size", 10)
  .text("X (Arbitrary units)");
svg.append("text").attr("transform", `translate(741,${(mT + mB) / 2}) rotate(-90)`)
  .attr("text-anchor", "middle").attr("font-weight", "bold").attr("font-size", 9.6)
  .text("Y (Arbitrary units)");

// zoom box and connectors
const zX0 = xZoomTicks[0], zX1 = xZoomTicks[xZoomTicks.length - 1];
const zY0 = yZoomTicks[0], zY1 = yZoomTicks[yZoomTicks.length - 1];
const iL = 392.7, iR = 598.3, iT = 31.7, iB = 236.3;
svg.append("rect").attr("x", x(zX0)).attr("y", y(zY1)).attr("width", x(zX1) - x(zX0)).attr("height", y(zY0) - y(zY1))
  .attr("fill", "none").attr("stroke", "#222").attr("stroke-width", 1);
svg.append("line").attr("x1", x(zX0)).attr("y1", y(zY0)).attr("x2", iL).attr("y2", iB)
  .attr("stroke", "#222").attr("stroke-width", 0.8);
svg.append("line").attr("x1", x(zX1)).attr("y1", y(zY0)).attr("x2", iR).attr("y2", iB)
  .attr("stroke", "#222").attr("stroke-width", 0.8);

// inset
const xi = d3.scaleLinear().domain([zX0, zX1]).range([iL, iR]);
const yi = d3.scaleLinear().domain([zY0, zY1]).range([iB, iT]);
const inset = svg.append("g");
inset.append("rect").attr("x", iL).attr("y", iT).attr("width", iR - iL).attr("height", iB - iT).attr("fill", "#fff");
inset.append("clipPath").attr("id", "insetClip")
  .append("rect").attr("x", iL).attr("y", iT).attr("width", iR - iL).attr("height", iB - iT);
const ip = inset.append("g").attr("clip-path", "url(#insetClip)");
ip.selectAll("circle.pt").data(allPts).join("circle").attr("class", "pt")
  .attr("cx", d => xi(d[0])).attr("cy", d => yi(d[1])).attr("r", 2.4).attr("fill", "#c0c0c0");
ip.append("circle").attr("cx", xi(grbX[0])).attr("cy", yi(grbY[0]))
  .attr("r", xi(circleRadius) - xi(0)).attr("fill", "none").attr("stroke", "#0000ff").attr("stroke-width", 1.2);

const markerDefs = [
  { type: d3.symbolStar, size: 22, rot: 0, fill: "#ffff00" },
  { type: d3.symbolTriangle, size: 22, rot: 0, fill: "#ff00ff" },
  { type: d3.symbolTriangle, size: 22, rot: 180, fill: "#ff00ff" },
  { type: d3.symbolTriangle, size: 22, rot: -90, fill: "#ff00ff" },
  { type: d3.symbolTriangle, size: 22, rot: 90, fill: "#ff00ff" },
  { type: d3.symbolSquare, size: 40, rot: 0, fill: "#ff00ff" }
];
const order = [1, 2, 3, 4, 5, 0];
order.forEach(k => {
  const m = markerDefs[k];
  ip.append("path").attr("d", d3.symbol().type(m.type).size(m.size)())
    .attr("transform", `translate(${xi(grbX[k])},${yi(grbY[k])}) rotate(${m.rot})`)
    .attr("fill", m.fill).attr("stroke", "#000").attr("stroke-width", 0.7);
});

const fmtPlain = d => String(d);
function styleInset(sel) {
  sel.select(".domain").remove();
  sel.selectAll("text").attr("font-size", 7.5).attr("fill", "#000").attr("font-family", null);
  sel.selectAll("line").attr("stroke", axisCol);
}
inset.append("g").attr("transform", `translate(0,${iT})`)
  .call(d3.axisTop(xi).tickValues(xZoomTicks).tickFormat(fmtPlain).tickSize(2.5).tickPadding(3)).call(styleInset);
inset.append("g").attr("transform", `translate(${iR},0)`)
  .call(d3.axisRight(yi).tickValues(yZoomTicks).tickFormat(fmtPlain).tickSize(2).tickPadding(0.5)).call(styleInset);
inset.append("rect").attr("x", iL).attr("y", iT).attr("width", iR - iL).attr("height", iB - iT)
  .attr("fill", "none").attr("stroke", "#999").attr("stroke-width", 1.2);

// legend of the map
const lgX = 236, lgY = 266;
const leg = svg.append("g");
leg.append("rect").attr("x", lgX).attr("y", lgY).attr("width", 95).attr("height", 81).attr("rx", 2)
  .attr("fill", "#fff").attr("fill-opacity", 0.8).attr("stroke", "#ccc").attr("stroke-width", 0.8);
grbNames.forEach((name, k) => {
  const m = markerDefs[k];
  const cy = lgY + 7.7 + k * 13.25;
  leg.append("path").attr("d", d3.symbol().type(m.type).size(k === 0 ? 30 : m.size)())
    .attr("transform", `translate(${lgX + 12.3},${cy}) rotate(${m.rot})`)
    .attr("fill", m.fill).attr("stroke", "#000").attr("stroke-width", 0.7);
  leg.append("text").attr("x", lgX + 29).attr("y", cy).attr("dy", "0.35em")
    .attr("font-size", 9).text(name);
});
</script>
</body>
</html>
